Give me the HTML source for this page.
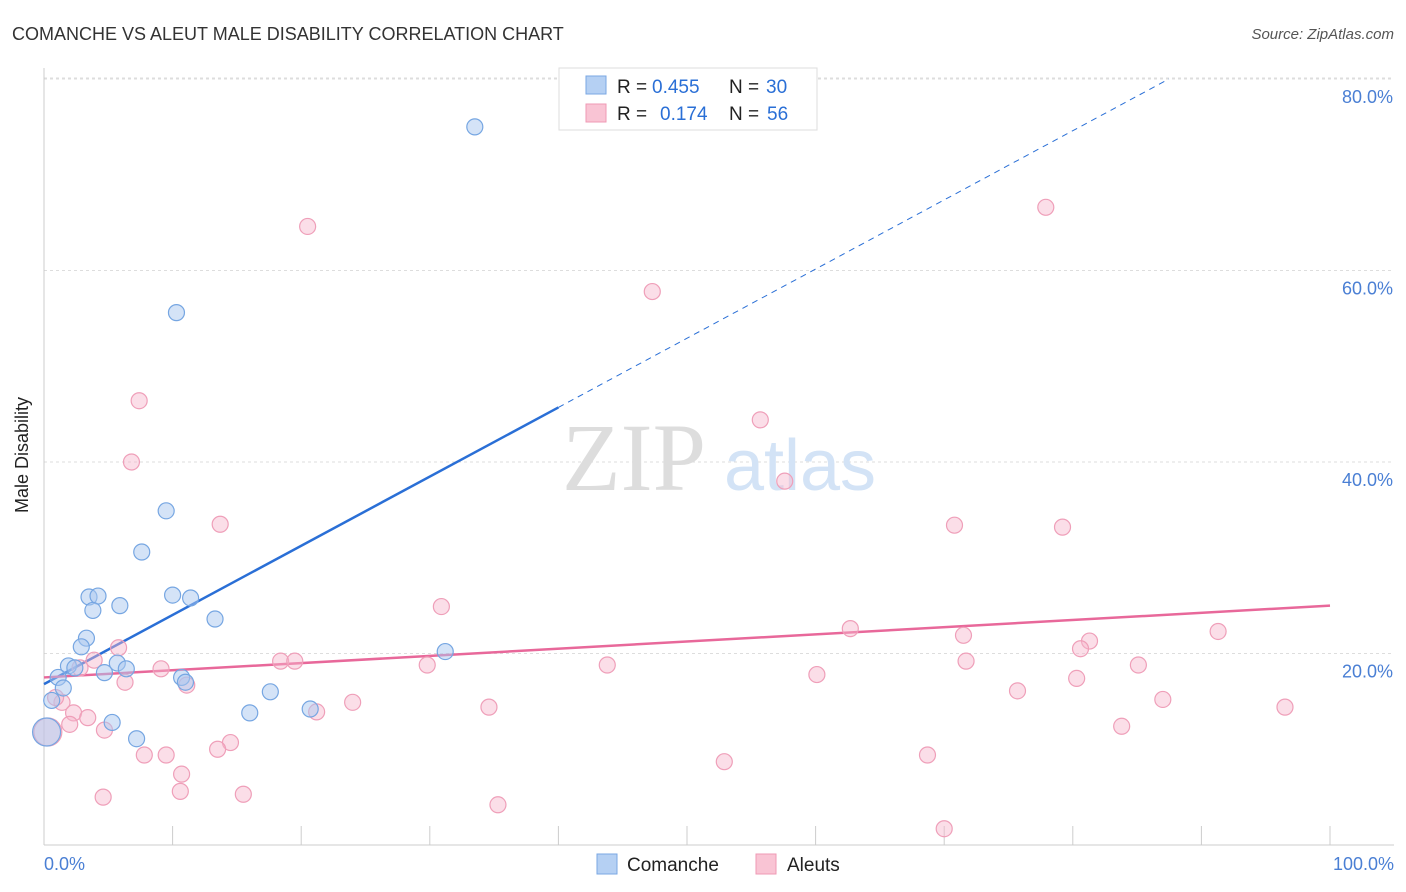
<!DOCTYPE html>
<html><head><meta charset="utf-8"><style>
body{margin:0;background:#fff;font-family:"Liberation Sans",sans-serif;}
svg{display:block}
</style></head><body>
<svg id="chart" width="1406" height="892">
<text x="12" y="40" font-size="18" fill="#333">COMANCHE VS ALEUT MALE DISABILITY CORRELATION CHART</text>
<text x="1394" y="39" font-size="15" fill="#555" font-style="italic" text-anchor="end">Source: ZipAtlas.com</text>
<g id="grid"></g>
<text x="634" y="490" font-size="96" fill="#ddd" font-family="Liberation Serif,serif" text-anchor="middle">ZIP</text>
<text x="800" y="490" font-size="72" fill="#d3e3f6" text-anchor="middle">atlas</text>
<g id="axes"></g>
<g id="lines"></g>
<g id="pts"></g>
<text x="28" y="455" font-size="18" fill="#222" text-anchor="middle" transform="rotate(-90 28 455)">Male Disability</text>
<g>
<rect x="559" y="68" width="258" height="62" fill="#fff" stroke="#ddd"/>
<rect x="586" y="76" width="20" height="18" fill="#b5d0f3" stroke="#7aa7e3"/>
<text x="617" y="93" font-size="19" fill="#222">R =</text>
<text x="652" y="93" font-size="19" fill="#2a6fd6">0.455</text>
<text x="729" y="93" font-size="19" fill="#222">N =</text>
<text x="766" y="93" font-size="19" fill="#2a6fd6">30</text>
<rect x="586" y="104" width="20" height="18" fill="#f9c4d4" stroke="#ef9ab4"/>
<text x="617" y="120" font-size="19" fill="#222">R =</text>
<text x="660" y="120" font-size="19" fill="#2a6fd6">0.174</text>
<text x="729" y="120" font-size="19" fill="#222">N =</text>
<text x="767" y="120" font-size="19" fill="#2a6fd6">56</text>
</g>
<g>
<rect x="597" y="854" width="20" height="20" fill="#b5d0f3" stroke="#7aa7e3"/>
<text x="627" y="871" font-size="19" fill="#222">Comanche</text>
<rect x="756" y="854" width="20" height="20" fill="#f9c4d4" stroke="#ef9ab4"/>
<text x="787" y="871" font-size="19" fill="#222">Aleuts</text>
</g>
</svg>
<script>
const yTicks=[20,40,60,80];
const blueX=[33.5,10.3,9.5,7.6,3.5,4.2,3.8,5.9,10.0,11.4,13.3,3.3,2.9,1.9,2.4,5.7,6.4,4.7,1.1,1.5,10.7,11.0,17.6,16.0,20.7,5.3,7.2,31.2,0.6,0.2];
const blueY=[75.0,55.6,34.9,30.6,25.9,26.0,24.5,25.0,26.1,25.8,23.6,21.6,20.7,18.7,18.5,19.0,18.4,18.0,17.5,16.4,17.5,17.0,16.0,13.8,14.2,12.8,11.1,20.2,15.1,11.8];
const pinkX=[20.5,77.9,47.3,7.4,6.8,55.7,57.6,13.7,70.8,79.2,30.9,62.7,71.5,91.3,81.3,80.6,5.8,3.9,18.4,19.5,9.1,71.7,85.1,43.8,29.8,6.3,11.1,60.1,75.7,80.3,24.0,34.6,87.0,96.5,21.2,1.4,2.3,3.4,2.0,4.7,83.8,14.5,13.5,9.5,7.8,68.7,52.9,10.7,10.6,4.6,15.5,35.3,70.0,0.9,0.3,2.8];
const pinkY=[64.6,66.6,57.8,46.4,40.0,44.4,38.0,33.5,33.4,33.2,24.9,22.6,21.9,22.3,21.3,20.5,20.6,19.3,19.2,19.2,18.4,19.2,18.8,18.8,18.8,17.0,16.7,17.8,16.1,17.4,14.9,14.4,15.2,14.4,13.9,14.9,13.8,13.3,12.6,12.0,12.4,10.7,10.0,9.4,9.4,9.4,8.7,7.4,5.6,5.0,5.3,4.2,1.7,15.4,11.8,18.5];
const blueTrend=[16.8,45.7]; // y at x=0 and x=40
const pinkTrend=[17.5,25.0]; // y at x=0 and x=100
const X=v=>44+v*12.86, Y=v=>845-v*9.575;
const NS="http://www.w3.org/2000/svg";
function mk(tag,attrs,parent){const e=document.createElementNS(NS,tag);for(const k in attrs)e.setAttribute(k,attrs[k]);document.getElementById(parent).appendChild(e);return e;}
mk('line',{x1:44,x2:1394,y1:Y(80)-1,y2:Y(80)-1,stroke:'#ddd','stroke-dasharray':'3 3'},'grid');
yTicks.forEach(t=>{
 const l=mk('line',{x1:44,x2:1394,y1:Y(t),y2:Y(t),stroke:'#ddd','stroke-dasharray':'3 3'},'grid');
 
 
 const tx=mk('text',{x:1393,y:Y(t)+24,'font-size':18,fill:'#4a7fd4','text-anchor':'end'},'axes');
 tx.textContent=t.toFixed(1)+'%';
 
 
});
mk('line',{x1:44,x2:44,y1:68,y2:845,stroke:'#ccc'},'axes');
mk('line',{x1:44,x2:1394,y1:845,y2:845,stroke:'#ccc'},'axes');
for(let i=0;i<=10;i++){mk('line',{x1:X(i*10),x2:X(i*10),y1:826,y2:845,stroke:'#ccc'},'axes');}
let t0=mk('text',{x:44,y:870,'font-size':18,fill:'#4a7fd4'},'axes');t0.textContent='0.0%';


let t1=mk('text',{x:1394,y:870,'font-size':18,fill:'#4a7fd4','text-anchor':'end'},'axes');t1.textContent='100.0%';


const slope=(blueTrend[1]-blueTrend[0])/40;
const xEnd=(80-blueTrend[0])/slope;
let bl=mk('line',{x1:X(0),y1:Y(blueTrend[0]),x2:X(40),y2:Y(blueTrend[1]),stroke:'#2a6fd6','stroke-width':2.5},'lines');


let bd=mk('line',{x1:X(40),y1:Y(blueTrend[1]),x2:X(xEnd),y2:Y(80),stroke:'#2a6fd6','stroke-width':1,'stroke-dasharray':'6 5'},'lines');


let pl=mk('line',{x1:X(0),y1:Y(pinkTrend[0]),x2:X(100),y2:Y(pinkTrend[1]),stroke:'#e8689a','stroke-width':2.5},'lines');


pinkX.forEach((x,i)=>{
 const c=mk('circle',{cx:X(x),cy:Y(pinkY[i]),r:(i==54?14:8),fill:'rgba(247,182,203,0.45)',stroke:'#ef9fb9','stroke-width':1.2},'pts');
 
 
});
blueX.forEach((x,i)=>{
 const c=mk('circle',{cx:X(x),cy:Y(blueY[i]),r:(i==29?14:8),fill:'rgba(169,200,240,0.5)',stroke:'#76a6e2','stroke-width':1.2},'pts');
 
 
});
</script>
</body></html>
